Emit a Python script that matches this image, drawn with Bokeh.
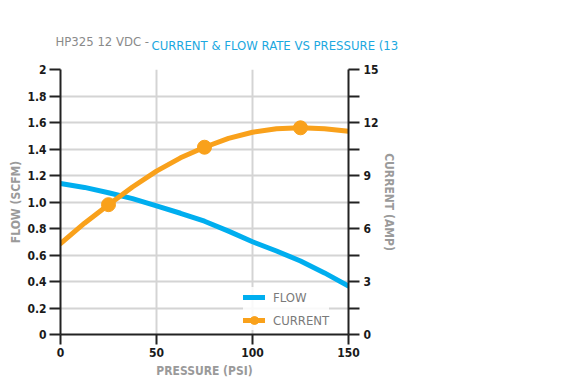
from bokeh.plotting import figure
from bokeh.models import (Range1d, LinearAxis, FixedTicker, Legend, LegendItem, Title)
from bokeh.embed import file_html
from bokeh.resources import INLINE

# ---- data ----
pressure = [0, 12.5, 25, 37.5, 50, 62.5, 75, 87.5, 100, 112.5, 125, 137.5, 150]
flow = [1.14, 1.11, 1.07, 1.025, 0.97, 0.915, 0.855, 0.78, 0.70, 0.63, 0.555, 0.465, 0.365]
current = [5.15, 6.3, 7.35, 8.35, 9.25, 10.0, 10.6, 11.1, 11.45, 11.65, 11.7, 11.65, 11.5]
marker_pressure = [25, 75, 125]
marker_current = [7.35, 10.6, 11.7]

flow_ticks = [0, 0.2, 0.4, 0.6, 0.8, 1.0, 1.2, 1.4, 1.6, 1.8, 2.0]
flow_tick_labels = {0: "0", 0.2: "0.2", 0.4: "0.4", 0.6: "0.6", 0.8: "0.8", 1.0: "1.0",
                    1.2: "1.2", 1.4: "1.4", 1.6: "1.6", 1.8: "1.8", 2.0: "2"}
current_ticks = [0, 3, 6, 9, 12, 15]
current_minor = [1.5, 4.5, 7.5, 10.5, 13.5]
pressure_ticks = [0, 50, 100, 150]

title_a = "HP325 12 VDC - "
title_b = "CURRENT & FLOW RATE VS PRESSURE (13.8 VDC)"

BLUE = "#00AEEF"
ORANGE = "#F9A11B"
FONT = "DejaVu Sans Condensed"

p = figure(width=488, height=379, frame_width=288, frame_height=265,
           output_backend="svg", toolbar_location=None,
           x_range=Range1d(0, 150), y_range=Range1d(0, 2),
           min_border_left=60, min_border_right=0, min_border_top=69, min_border_bottom=45)
p.outline_line_color = None
p.extra_y_ranges = {"amp": Range1d(0, 15)}

p.xgrid.ticker = FixedTicker(ticks=pressure_ticks)
p.ygrid.ticker = FixedTicker(ticks=flow_ticks)
for g in (p.xgrid, p.ygrid):
    g.grid_line_color = "#D4D4D4"
    g.grid_line_width = 2

def style_axis(ax):
    ax.axis_line_color = "#222222"
    ax.axis_line_width = 2
    ax.major_tick_line_color = "#222222"
    ax.major_tick_line_width = 2
    ax.major_tick_out = 11
    ax.major_tick_in = 0
    ax.minor_tick_line_color = "#222222"
    ax.minor_tick_line_width = 2
    ax.minor_tick_out = 11
    ax.minor_tick_in = 0
    ax.major_label_text_font = FONT
    ax.major_label_text_font_style = "bold"
    ax.major_label_text_font_size = "12px"
    ax.major_label_text_color = "#1a1a1a"
    ax.axis_label_text_font = FONT
    ax.axis_label_text_font_style = "bold"
    ax.axis_label_text_font_size = "12px"
    ax.axis_label_text_color = "#9A9A9A"

xa = p.xaxis[0]
xa.ticker = FixedTicker(ticks=pressure_ticks)
xa.axis_label = "PRESSURE (PSI)"
style_axis(xa)
xa.major_tick_out = 10
xa.major_label_standoff = 3
xa.axis_label_standoff = 4

ya = p.yaxis[0]
ya.ticker = FixedTicker(ticks=flow_ticks)
ya.major_label_overrides = flow_tick_labels
ya.axis_label = "FLOW (SCFM)"
style_axis(ya)
ya.major_label_standoff = 3
ya.axis_label_standoff = 1

ra = LinearAxis(y_range_name="amp", axis_label="CURRENT (AMP)")
ra.ticker = FixedTicker(ticks=current_ticks, minor_ticks=current_minor)
style_axis(ra)
ra.major_label_standoff = 4
ra.axis_label_standoff = 0
p.add_layout(ra, "right")

r_flow = p.line(pressure, flow, line_color=BLUE, line_width=5, line_cap="round")
r_cur = p.line(pressure, current, line_color=ORANGE, line_width=5, line_cap="round",
               y_range_name="amp")
r_mk = p.scatter(marker_pressure, marker_current, size=14, color=ORANGE, y_range_name="amp")

legend = Legend(items=[LegendItem(label="FLOW", renderers=[r_flow]),
                       LegendItem(label="CURRENT", renderers=[r_cur, r_mk])],
                location=(183, 4), border_line_color=None,
                background_fill_color="white", background_fill_alpha=0.85,
                margin=0, padding=2,
                label_text_font=FONT, label_text_font_size="13px", label_text_color="#7A7A7A",
                glyph_width=22, glyph_height=20, spacing=3, label_standoff=8)
p.add_layout(legend, "center")

tb = Title(text=title_b, text_color="#1BA8E0", text_font=FONT, text_font_size="13px",
           text_font_style="normal", align="left", offset=91, standoff=33)
ta = Title(text=title_a, text_color="#8A8A8A", text_font=FONT, text_font_size="13px",
           text_font_style="normal", align="left", offset=-5, standoff=-58)
p.add_layout(tb, "above")
p.add_layout(ta, "above")

open("out.html", "w").write(file_html(p, INLINE))
